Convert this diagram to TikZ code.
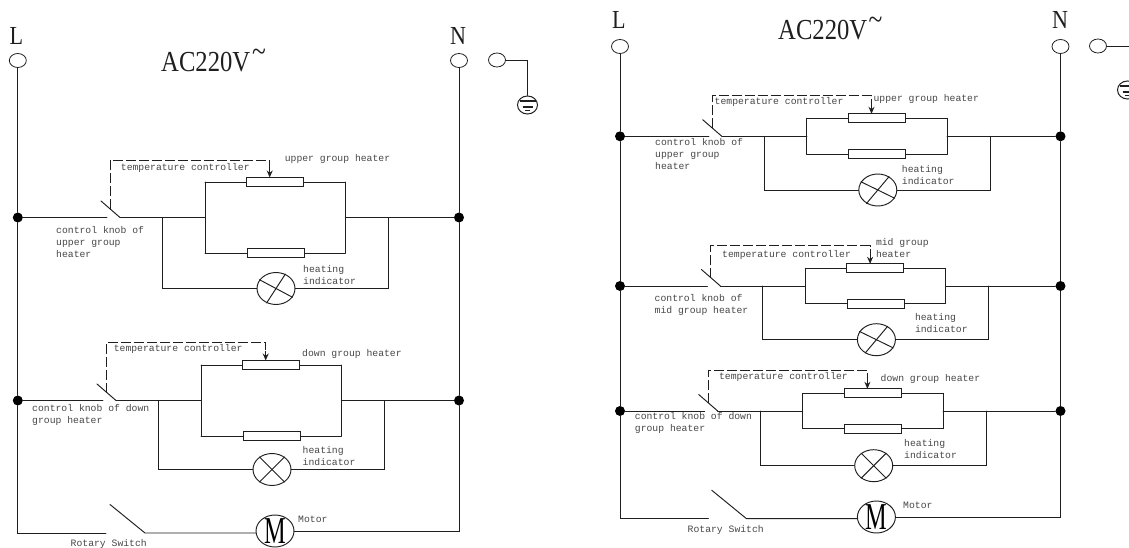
\documentclass[tikz,border=0pt]{standalone}
\usepackage{fontspec}
\setmonofont{Liberation Mono}
\newfontfamily\titlefont[FakeStretch=0.85]{Liberation Serif}
\newfontfamily\motorfont[FakeStretch=0.64]{Liberation Serif}
\usetikzlibrary{shapes.geometric,arrows.meta}
\definecolor{ink}{gray}{0.12}
\definecolor{txtink}{gray}{0.28}
\tikzset{
  wire/.style={draw=ink,line width=0.95pt,line cap=round,line join=miter},
  ctrl/.style={draw=ink,line width=0.95pt,dash pattern=on 10pt off 3pt},
  term/.style={ellipse,draw=ink,line width=0.8pt,fill=white,minimum width=17pt,minimum height=14pt,inner sep=0pt},
  junc/.style={circle,fill=black,minimum size=10pt,inner sep=0pt},
  res/.style={rectangle,draw=ink,line width=0.95pt,fill=white,minimum width=57pt,minimum height=9pt,inner sep=0pt},
  lamp/.style={ellipse,draw=ink,line width=0.95pt,fill=white,minimum width=38pt,minimum height=32pt,inner sep=0pt},
  lab/.style={text=txtink,inner sep=0pt,anchor=north west,align=left,font=\ttfamily\fontsize{9.75}{12}\selectfont},
  big/.style={text=ink,inner sep=0pt,anchor=base west,font=\titlefont\fontsize{26}{26}\selectfont},
  title/.style={text=ink,inner sep=0pt,anchor=base west,font=\titlefont\fontsize{29}{29}\selectfont},
  tilde/.style={text=ink,inner sep=0pt,font=\titlefont\fontsize{30}{30}\selectfont},
  motorM/.style={text=black,inner sep=0pt,font=\motorfont\fontsize{38}{38}\selectfont},
  earthring/.style={ellipse,draw=ink,line width=1pt,fill=white,minimum width=20pt,minimum height=18pt,inner sep=0pt},
}
\newcommand{\heaterunit}[8]{%
 \begin{scope}[shift={(#2,#3)},name prefix=#1-]
  \coordinate (gap) at (-98,0);
  \coordinate (pole) at (-85,0);
  \coordinate (blade) at (-104,-16.5);
  \coordinate (bl) at (-42.5,0);
  \coordinate (pl) at (0,0);
  \coordinate (pr) at (140.3,0);
  \coordinate (br) at (183.5,0);
  \coordinate (plt) at (0,-#4);
  \coordinate (plb) at (0,#4);
  \coordinate (prt) at (140.3,-#4);
  \coordinate (prb) at (140.3,#4);
  \coordinate (bld) at (-42.5,#5);
  \coordinate (brd) at (183.5,#5);
  \coordinate (dsw) at (-94.7,-8);
  \coordinate (dtl) at (-94.7,-#6);
  \coordinate (dtr) at (64.7,-#6);
  \coordinate (dar) at (64.7,-#4-14);
  \node[res] (rt) at (70,-#4) {};
  \node[res] (rb) at (70.6,#4) {};
  \node[lamp] (lp) at (71,#5) {};
  \draw[wire] (pole) -- (blade);
  \draw[wire] (pole) -- (pl) (pr) -- (br);
  \draw[wire] (plt) -- (plb) (prt) -- (prb);
  \draw[wire] (plt) -- (rt.west) (rt.east) -- (prt);
  \draw[wire] (plb) -- (rb.west) (rb.east) -- (prb);
  \draw[wire] (bl) -- (bld) -- (lp.west) (lp.east) -- (brd) -- (br);
  \draw[wire] (lp.#7) -- (lp.#7+180);
  \draw[wire] (lp.#8) -- (lp.#8+180);
  \draw[ctrl] (dsw) -- (dtl) -- (dtr) -- (dar);
  \draw[draw=ink,line width=1.1pt,-{Stealth[length=7pt,width=6pt]}] (dar) -- (64.7,-#4-4.5);
 \end{scope}}
\begin{document}
\begin{tikzpicture}[x=1pt,y=-1pt]
\clip (0,0) rectangle (1129,548);
\fill[white] (0,0) rectangle (1129,548);

% ===== left diagram =====
\node[big] (lL) at (9.5,45) {L};
\node[big] (lN) at (450,45) {N};
\node[title] (lAC) at (161,72) {AC220V};
\node[tilde] (lT) at (259,55) {\char`\~};
\node[term] (lLt) at (17.8,60.5) {};
\node[term] (lNt) at (459,60.5) {};
\node[term] (lEt) at (497,60) {};
\coordinate (lEc) at (527.5,60);
\node[earthring] (lEr) at (527.5,105) {};
\draw[wire] (lEt.east) -- (lEc) -- (lEr.north);
\draw[line width=2pt,draw=ink] (519.5,101.5) -- (535.5,101.5);
\draw[line width=1.5pt,draw=ink] (522.5,107) -- (532.5,107);
\draw[line width=1pt,draw=ink] (525,110.5) -- (530,110.5);

\heaterunit{lu}{205}{217.5}{35.5}{71}{57.5}{152}{-123}{}
\heaterunit{ld}{201}{400.5}{35.5}{69}{58.5}{135}{-135}{}

\node[junc] (lLa) at (17.8,217.5) {};
\node[junc] (lNa) at (459,217.5) {};
\node[junc] (lLb) at (17.8,400.5) {};
\node[junc] (lNb) at (459,400.5) {};
\coordinate (lLc) at (17.8,533);
\coordinate (lNc) at (459,531);
\coordinate (lSg) at (106,533);
\coordinate (lSp) at (145,533);
\coordinate (lSb) at (110,504.5);
\node[lamp] (lM) at (275,531) {};
\node[motorM] (lMt) at (lM.center) {M};
\draw[wire] (lLt.south) -- (lLa) -- (lLb) -- (lLc) -- (lSg);
\draw[wire] (lSb) -- (lSp) -- (lSp -| lM.west);
\draw[wire] (lM.east) -- (lNc) -- (lNb) -- (lNa) -- (lNt.south);
\draw[wire] (lLa) -- (lu-gap) (lu-br) -- (lNa);
\draw[wire] (lLb) -- (ld-gap) (ld-br) -- (lNb);

\node[lab] (t1) at (120.7,163) {temperature controller};
\node[lab] (t2) at (284.6,154.7) {upper group heater};
\node[lab] (t3) at (56,226.5) {control knob of\\upper group\\heater};
\node[lab] (t4) at (303,265.7) {heating\\indicator};
\node[lab] (t5) at (113.6,344) {temperature controller};
\node[lab] (t6) at (302,349.7) {down group heater};
\node[lab] (t7) at (32,404.7) {control knob of down\\group heater};
\node[lab] (t8) at (302.5,446.3) {heating\\indicator};
\node[lab] (t9) at (298,516.3) {Motor};
\node[lab] (t10) at (70.5,539.7) {Rotary Switch};

% ===== right diagram =====
\node[big] (rL) at (612,29) {L};
\node[big] (rN) at (1052,29) {N};
\node[title] (rAC) at (778,40) {AC220V};
\node[tilde] (rT) at (875.5,23) {\char`\~};
\node[term] (rLt) at (620,46.5) {};
\node[term] (rNt) at (1060.5,46.5) {};
\node[term] (rEt) at (1098,46) {};
\coordinate (rEc) at (1135,46);
\node[earthring] (rEr) at (1127.5,90) {};
\draw[wire] (rEt.east) -- (rEc);
\draw[line width=2pt,draw=ink] (1119.5,86.5) -- (1135.5,86.5);
\draw[line width=1.5pt,draw=ink] (1122.5,92) -- (1132.5,92);
\draw[line width=1pt,draw=ink] (1125,95.5) -- (1130,95.5);

\heaterunit{ru}{806.8}{136.3}{18}{53.7}{40.6}{154}{-130}{}
\heaterunit{rm}{805.4}{286}{17.7}{53.7}{40.3}{154}{-130}{}
\heaterunit{rd}{802.7}{411}{17.7}{54.7}{40.7}{135}{-135}{}

\node[junc] (rLa) at (620,136.3) {};
\node[junc] (rNa) at (1060.5,136.3) {};
\node[junc] (rLb) at (620,286) {};
\node[junc] (rNb) at (1060.5,286) {};
\node[junc] (rLc) at (620,411) {};
\node[junc] (rNc) at (1060.5,411) {};
\coordinate (rLd) at (620,518.7);
\coordinate (rNd) at (1060.5,517);
\coordinate (rSg) at (708.4,518.7);
\coordinate (rSp) at (746.5,518.7);
\coordinate (rSb) at (711.8,490.3);
\node[lamp] (rM) at (876.4,517) {};
\node[motorM] (rMt) at (rM.center) {M};
\draw[wire] (rLt.south) -- (rLa) -- (rLb) -- (rLc) -- (rLd) -- (rSg);
\draw[wire] (rSb) -- (rSp) -- (rSp -| rM.west);
\draw[wire] (rM.east) -- (rNd) -- (rNc) -- (rNb) -- (rNa) -- (rNt.south);
\draw[wire] (rLa) -- (ru-gap) (ru-br) -- (rNa);
\draw[wire] (rLb) -- (rm-gap) (rm-br) -- (rNb);
\draw[wire] (rLc) -- (rd-gap) (rd-br) -- (rNc);

\node[lab] (r1) at (714.5,97.7) {temperature controller};
\node[lab] (r2) at (873.4,94.7) {upper group heater};
\node[lab] (r3) at (655,138.7) {control knob of\\upper group\\heater};
\node[lab] (r4) at (901.7,165.7) {heating\\indicator};
\node[lab] (r5) at (722,250.7) {temperature controller};
\node[lab] (r6) at (875.8,238.7) {mid group\\heater};
\node[lab] (r7) at (654.5,294.7) {control knob of\\mid group heater};
\node[lab] (r8) at (914.8,313.7) {heating\\indicator};
\node[lab] (r9) at (718.9,372) {temperature controller};
\node[lab] (r10) at (880.5,374.7) {down group heater};
\node[lab] (r11) at (634.7,412.7) {control knob of down\\group heater};
\node[lab] (r12) at (904,439.7) {heating\\indicator};
\node[lab] (r13) at (903,502.3) {Motor};
\node[lab] (r14) at (687.5,525.3) {Rotary Switch};
\end{tikzpicture}
\end{document}
